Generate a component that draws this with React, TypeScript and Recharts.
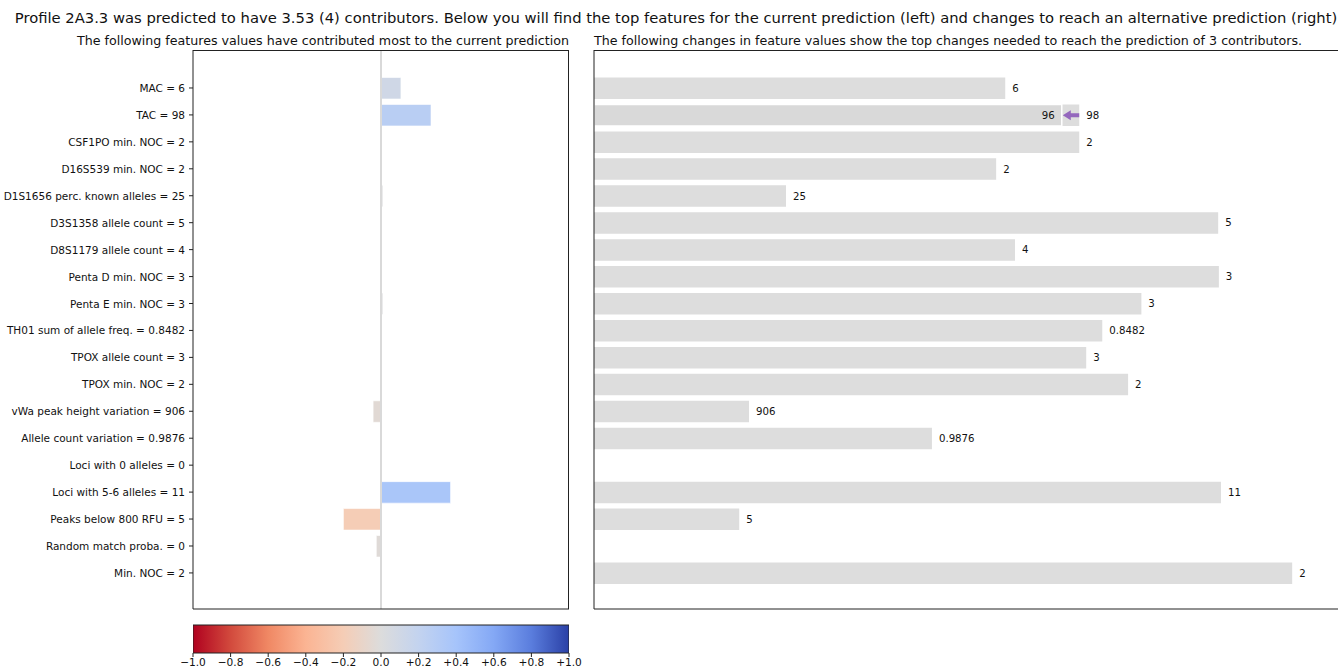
import React from 'react';
import {
  BarChart,
  Bar,
  XAxis,
  YAxis,
  Cell,
  ReferenceLine,
  LabelList,
} from 'recharts';

// ---- data -------------------------------------------------------------
const featureLabels = [
  'MAC = 6',
  'TAC = 98',
  'CSF1PO min. NOC = 2',
  'D16S539 min. NOC = 2',
  'D1S1656 perc. known alleles = 25',
  'D3S1358 allele count = 5',
  'D8S1179 allele count = 4',
  'Penta D min. NOC = 3',
  'Penta E min. NOC = 3',
  'TH01 sum of allele freq. = 0.8482',
  'TPOX allele count = 3',
  'TPOX min. NOC = 2',
  'vWa peak height variation = 906',
  'Allele count variation = 0.9876',
  'Loci with 0 alleles = 0',
  'Loci with 5-6 alleles = 11',
  'Peaks below 800 RFU = 5',
  'Random match proba. = 0',
  'Min. NOC = 2',
];

// contribution of each feature to the current prediction (-1 .. +1)
const contributions = [
  0.106, 0.266, 0.0, 0.0, 0.01, 0.0, 0.0, 0.0, 0.01, 0.0, 0.0, 0.0, -0.042, 0.0,
  0.0, 0.37, -0.2, -0.025, 0.0,
];

// normalised feature values (right panel bar lengths)
const normalisedValues = [
  0.589, 0.695, 0.695, 0.576, 0.275, 0.894, 0.603, 0.895, 0.784, 0.728, 0.705,
  0.765, 0.222, 0.484, 0.0, 0.898, 0.208, 0.0, 1.0,
];

// feature values printed next to the bars
const currentValueLabels = [
  '6', '98', '2', '2', '25', '5', '4', '3', '3', '0.8482', '3', '2', '906',
  '0.9876', '0', '11', '5', '0', '2',
];

// suggested changes towards the alternative prediction
const alternativeValues: (number | null)[] = [
  null, 0.67, null, null, null, null, null, null, null, null, null, null, null,
  null, null, null, null, null, null,
];
const alternativeValueLabels: (string | null)[] = [
  null, '96', null, null, null, null, null, null, null, null, null, null, null,
  null, null, null, null, null, null,
];

const contributionTicks = [-1, -0.8, -0.6, -0.4, -0.2, 0, 0.2, 0.4, 0.6, 0.8, 1];
const colorbarTickLabels = [
  '\u22121.0', '\u22120.8', '\u22120.6', '\u22120.4', '\u22120.2', '0.0',
  '+0.2', '+0.4', '+0.6', '+0.8', '+1.0',
];
const changeTicks = [0, 0.2, 0.4, 0.6, 0.8, 1.0];

// diverging red -> grey -> blue colour map
const colormapStops: [number, string][] = [
  [-1.0, '#b0011f'],
  [-0.8, '#d24a3d'],
  [-0.6, '#f08864'],
  [-0.4, '#fbb493'],
  [-0.2, '#f5cdb6'],
  [0.0, '#dcdcdc'],
  [0.2, '#c3d3ef'],
  [0.4, '#a6c4fb'],
  [0.6, '#84a8f5'],
  [0.8, '#5a7ddd'],
  [1.0, '#2a40a6'],
];

const TITLE =
  'Profile 2A3.3 was predicted to have 3.53 (4) contributors. Below you will find the top features for the current prediction (left) and changes to reach an alternative prediction (right)';
const LEFT_SUBTITLE =
  'The following features values have contributed most to the current prediction';
const RIGHT_SUBTITLE =
  'The following changes in feature values show the top changes needed to reach the prediction of 3 contributors.';

// ---- helpers ----------------------------------------------------------
const hexToRgb = (h: string) => [
  parseInt(h.slice(1, 3), 16),
  parseInt(h.slice(3, 5), 16),
  parseInt(h.slice(5, 7), 16),
];

function colormap(v: number): string {
  const c = Math.max(-1, Math.min(1, v));
  for (let i = 0; i < colormapStops.length - 1; i++) {
    const [v0, c0] = colormapStops[i];
    const [v1, c1] = colormapStops[i + 1];
    if (c >= v0 && c <= v1) {
      const t = (c - v0) / (v1 - v0);
      const a = hexToRgb(c0);
      const b = hexToRgb(c1);
      const m = a.map((x, k) => Math.round(x + (b[k] - x) * t));
      return `rgb(${m[0]},${m[1]},${m[2]})`;
    }
  }
  return colormapStops[colormapStops.length - 1][1];
}

const FONT = '"DejaVu Sans", sans-serif';
const TEXT = '#111';
const SPINE = '#222';
const BAR_SIZE = 21.5;
const TICK_FONT = 10.5;
const VALUE_FONT = 10.2;

const rows = featureLabels.map((label, i) => ({
  label,
  contribution: contributions[i],
  value: normalisedValues[i],
  valueLabel: currentValueLabels[i],
  alt: alternativeValues[i],
  altLabel: alternativeValueLabels[i],
}));

// the colour bar is a single range bar spanning the full -1 .. +1 scale
const colorbarRows = [{ name: 'scale', span: [contributionTicks[0], contributionTicks[contributionTicks.length - 1]] }];

// feature names on the left axis, kept on one line
const FeatureTick = (props: any) => {
  const { x, y, payload } = props;
  return (
    <text
      x={Number(x) - 4}
      y={Number(y)}
      textAnchor="end"
      dominantBaseline="central"
      fontSize={TICK_FONT}
      fontFamily={FONT}
      fill={TEXT}
    >
      {payload.value}
    </text>
  );
};

// arrow from the current value to the suggested one, with the new value printed before it
const AlternativeMarker = (props: any) => {
  const { x, y, width, height, value } = props;
  const row = rows.find((r) => r.altLabel != null && r.altLabel === value);
  if (!row || row.alt == null) return null;
  const xAlt = Number(x) + Number(width);
  const xCur = Number(x) + (Number(width) * row.value) / row.alt;
  const cy = Number(y) + Number(height) / 2;
  const head = 8;
  const shaft = 2;
  const halfHead = 5;
  const pts = [
    [xAlt + 1, cy],
    [xAlt + 1 + head, cy - halfHead],
    [xAlt + 1 + head, cy - shaft],
    [xCur, cy - shaft],
    [xCur, cy + shaft],
    [xAlt + 1 + head, cy + shaft],
    [xAlt + 1 + head, cy + halfHead],
  ]
    .map((p) => p.join(','))
    .join(' ');
  return (
    <g>
      <polygon points={pts} fill="#9467bd" />
      <text
        x={xAlt - 7}
        y={cy}
        textAnchor="end"
        dominantBaseline="central"
        fontSize={VALUE_FONT}
        fontFamily={FONT}
        fill={TEXT}
      >
        {row.altLabel}
      </text>
    </g>
  );
};

const ValueLabel = (props: any) => {
  const { x, y, width, height, value } = props;
  return (
    <text
      x={Number(x) + Number(width) + 7}
      y={Number(y) + Number(height) / 2}
      dominantBaseline="central"
      fontSize={VALUE_FONT}
      fontFamily={FONT}
      fill={TEXT}
    >
      {value}
    </text>
  );
};

export default function App() {
  return (
    <div
      style={{
        position: 'absolute',
        left: 0,
        top: 0,
        width: 1338,
        height: 669,
        overflow: 'hidden',
        background: '#fff',
        fontFamily: FONT,
        color: TEXT,
      }}
    >
      {/* figure title */}
      <div
        style={{
          position: 'absolute',
          left: 2,
          top: 9,
          width: 1348,
          textAlign: 'center',
          fontSize: 14.75,
          whiteSpace: 'nowrap',
          lineHeight: '18px',
        }}
      >
        {TITLE}
      </div>
      {/* panel titles */}
      <div
        style={{
          position: 'absolute',
          right: 1338 - 569,
          top: 33,
          fontSize: 12.65,
          whiteSpace: 'nowrap',
          lineHeight: '16px',
        }}
      >
        {LEFT_SUBTITLE}
      </div>
      <div
        style={{
          position: 'absolute',
          left: 594,
          top: 33,
          fontSize: 12.65,
          whiteSpace: 'nowrap',
          lineHeight: '16px',
        }}
      >
        {RIGHT_SUBTITLE}
      </div>

      {/* left panel: contributions */}
      <div style={{ position: 'absolute', left: 0, top: 0 }}>
        <BarChart
          width={571}
          height={619}
          data={rows}
          layout="vertical"
          margin={{ top: 50, right: 2, bottom: 0, left: 0 }}
        >
          <XAxis
            type="number"
            domain={[-1, 1]}
            ticks={contributionTicks}
            tick={false}
            tickSize={5}
            height={10}
            axisLine={{ stroke: SPINE }}
            tickLine={{ stroke: SPINE }}
            allowDataOverflow
          />
          <YAxis
            type="category"
            dataKey="label"
            width={193}
            tickSize={4}
            tickMargin={0}
            padding={{ top: 24.5, bottom: 22.6 }}
            interval={0}
            axisLine={{ stroke: SPINE }}
            tickLine={{ stroke: SPINE }}
            tick={<FeatureTick />}
          />
          <ReferenceLine x={0} stroke="#d9d9d9" strokeWidth={2} />
          <Bar
            dataKey="contribution"
            barSize={BAR_SIZE}
            isAnimationActive={false}
            stroke="#ffffff"
            strokeOpacity={0.6}
            strokeWidth={1}
          >
            {rows.map((r, i) => (
              <Cell key={i} fill={colormap(r.contribution)} />
            ))}
          </Bar>
        </BarChart>
      </div>
      {/* top and right spines of the left panel */}
      <div
        style={{
          position: 'absolute',
          left: 193,
          top: 50,
          width: 376,
          height: 559,
          borderTop: `1px solid ${SPINE}`,
          borderRight: `1px solid ${SPINE}`,
          boxSizing: 'border-box',
          pointerEvents: 'none',
        }}
      />

      {/* colour bar */}
      <div style={{ position: 'absolute', left: 0, top: 620 }}>
        <BarChart
          width={590}
          height={49}
          data={colorbarRows}
          layout="vertical"
          barCategoryGap={0}
          margin={{ top: 5, right: 21, bottom: 0, left: 193 }}
        >
          <defs>
            <linearGradient id="cbarGradient" x1="0" y1="0" x2="1" y2="0">
              {colormapStops.map(([v, c]) => (
                <stop key={v} offset={`${((v + 1) / 2) * 100}%`} stopColor={c} />
              ))}
            </linearGradient>
          </defs>
          <XAxis
            type="number"
            domain={[-1, 1]}
            ticks={contributionTicks}
            tickFormatter={(v: number) =>
              colorbarTickLabels[contributionTicks.indexOf(v)] ?? String(v)
            }
            height={16}
            tickSize={4}
            tickMargin={1}
            interval={0}
            axisLine={false}
            tickLine={{ stroke: SPINE }}
            tick={{ fontSize: 10.6, fontFamily: FONT, fill: TEXT }}
            allowDataOverflow
          />
          <YAxis type="category" dataKey="name" hide />
          <Bar
            dataKey="span"
            fill="url(#cbarGradient)"
            stroke={SPINE}
            strokeWidth={1}
            isAnimationActive={false}
          />
        </BarChart>
      </div>

      {/* right panel: changes towards the alternative prediction */}
      <div style={{ position: 'absolute', left: 589, top: 0 }}>
        <BarChart
          width={773}
          height={619}
          data={rows}
          layout="vertical"
          barGap={-BAR_SIZE}
          margin={{ top: 50, right: 0, bottom: 0, left: 0 }}
        >
          <XAxis
            type="number"
            domain={[0, 1.1]}
            ticks={changeTicks}
            tick={false}
            tickSize={5}
            height={10}
            axisLine={{ stroke: SPINE }}
            tickLine={{ stroke: SPINE }}
            allowDataOverflow
          />
          <YAxis
            type="category"
            dataKey="label"
            width={5}
            tickSize={4}
            tick={false}
            padding={{ top: 24.5, bottom: 22.6 }}
            interval={0}
            axisLine={{ stroke: SPINE }}
            tickLine={{ stroke: SPINE }}
          />
          <Bar
            dataKey="value"
            barSize={BAR_SIZE}
            fill="#dddddd"
            isAnimationActive={false}
          >
            <LabelList dataKey="valueLabel" content={ValueLabel} />
          </Bar>
          <Bar
            dataKey="alt"
            barSize={BAR_SIZE}
            fill="#d9d9d9"
            stroke="#ffffff"
            strokeWidth={1.5}
            isAnimationActive={false}
          >
            <LabelList dataKey="altLabel" content={AlternativeMarker} />
          </Bar>
        </BarChart>
      </div>
      {/* top spine of the right panel */}
      <div
        style={{
          position: 'absolute',
          left: 594,
          top: 50,
          width: 800,
          height: 1,
          background: SPINE,
          pointerEvents: 'none',
        }}
      />
    </div>
  );
}
